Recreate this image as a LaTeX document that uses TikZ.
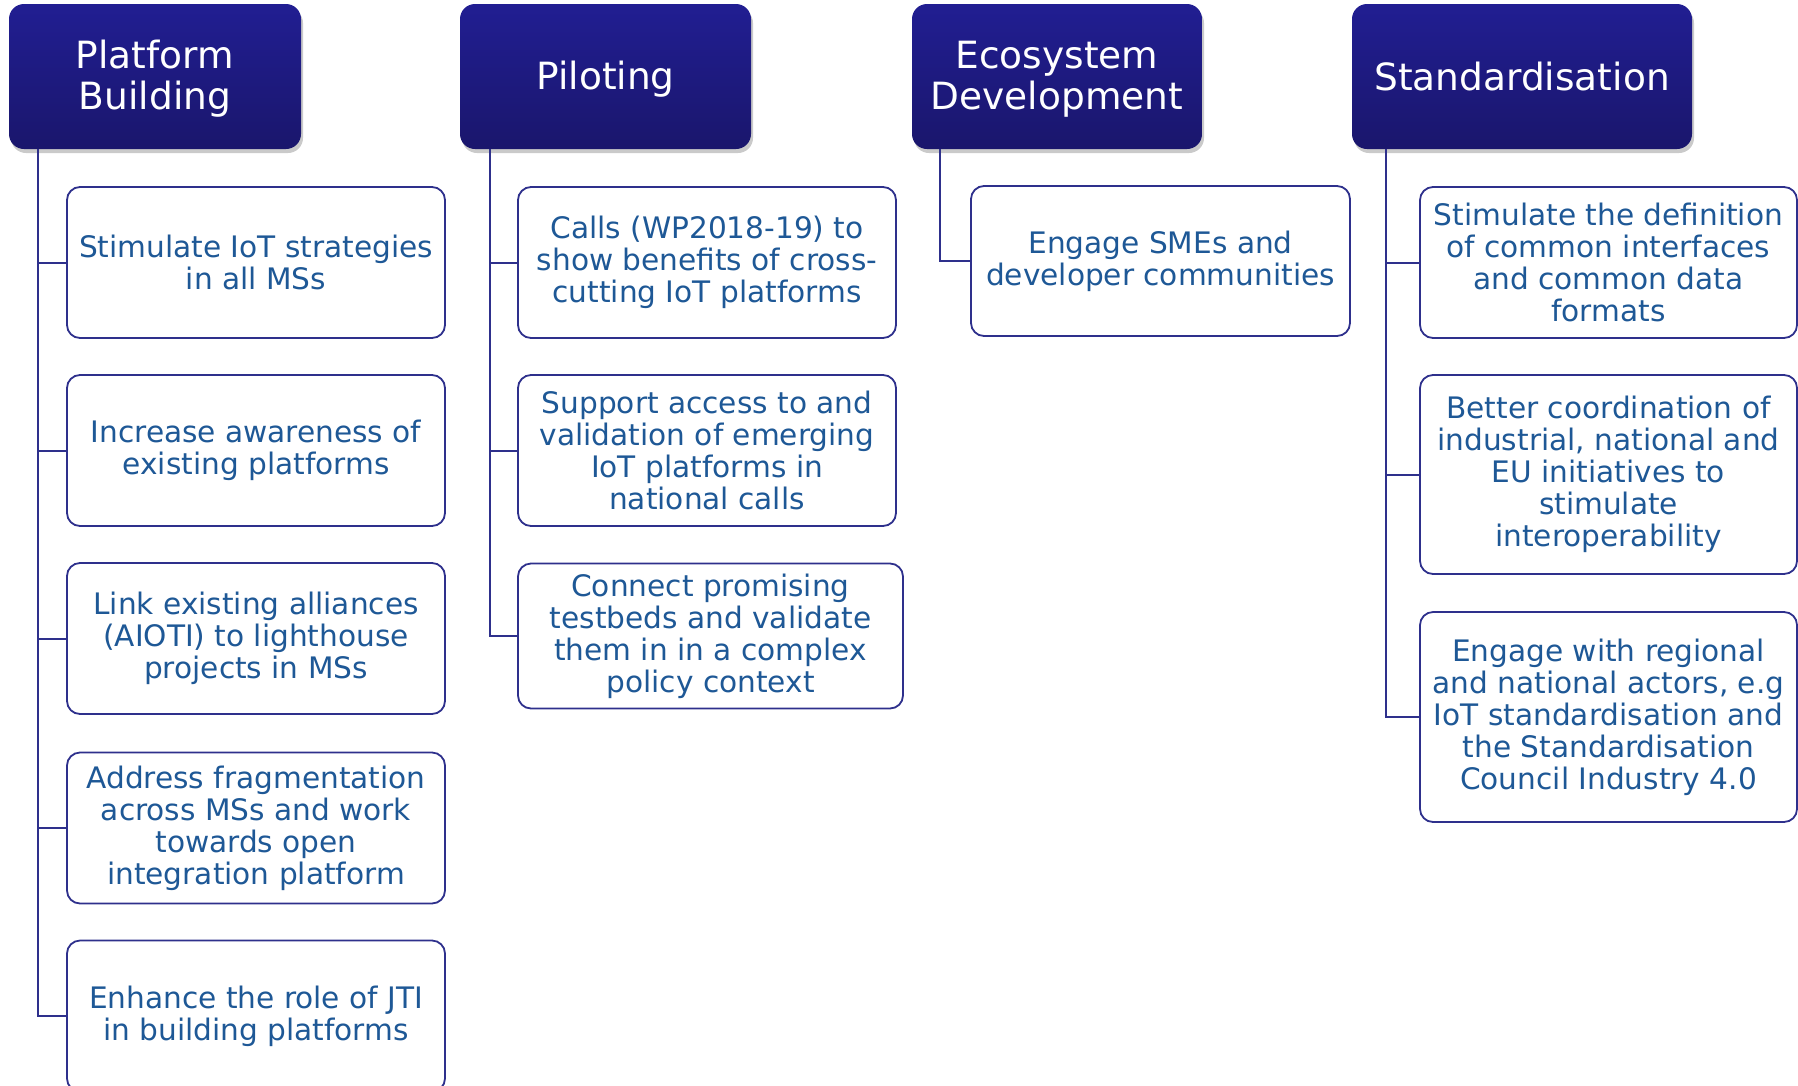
\documentclass[tikz,border=0pt]{standalone}
\usepackage{fontspec}
\setmainfont{DejaVu Sans}
\usetikzlibrary{shadows}
\definecolor{navytop}{RGB}{33,30,146}
\definecolor{navybot}{RGB}{26,22,108}
\definecolor{edgeblue}{RGB}{46,48,140}
\definecolor{txtblue}{RGB}{30,88,150}
\tikzset{
  x=1pt, y=-1pt,
  head/.style={rounded corners=15pt, top color=navytop, bottom color=navybot,
    draw=none, text=white, align=center, inner sep=0pt,
    font=\fontsize{37.5}{41}\selectfont,
    drop shadow={shadow xshift=2pt, shadow yshift=-4pt, opacity=0.35, fill=black!60}},
  item/.style={rounded corners=13pt, draw=edgeblue, line width=1.8pt, fill=white,
    text=txtblue, align=center, inner sep=0pt,
    font=\fontsize{29.6}{32}\selectfont},
  conn/.style={draw=edgeblue, line width=2pt},
}
\begin{document}
\begin{tikzpicture}
\useasboundingbox (0,0) rectangle (1798,1085);

% headers
\node[head, minimum width=292pt, minimum height=145pt] (h1) at (155,76.5) {\rule{0pt}{33pt}Platform\\Building};
\node[head, minimum width=291pt, minimum height=145pt] (h2) at (605.5,76.5) {\rule{0pt}{33pt}Piloting};
\node[head, minimum width=290pt, minimum height=145pt] (h3) at (1057,76.5) {\rule{0pt}{33pt}Ecosystem\\Development};
\node[head, minimum width=340pt, minimum height=145pt] (h4) at (1522,76.5) {Standardisation};

% column 1
\node[item, minimum width=378pt, minimum height=151pt] (a1) at (256,262.5) {Stimulate IoT strategies\\in all MSs};
\node[item, minimum width=378pt, minimum height=151pt] (a2) at (256,450.5) {Increase awareness of\\existing platforms};
\node[item, minimum width=378pt, minimum height=151pt] (a3) at (256,638.5) {Link existing alliances\\(AIOTI) to lighthouse\\projects in MSs};
\node[item, minimum width=378pt, minimum height=151pt] (a4) at (256,828) {Address fragmentation\\across MSs and work\\towards open\\integration platform};
\node[item, minimum width=378pt, minimum height=151pt] (a5) at (256,1016) {Enhance the role of JTI\\in building platforms};

% column 2
\node[item, minimum width=378pt, minimum height=151pt] (b1) at (707,262.5) {Calls (WP2018-19) to\\show benefits of cross-\\cutting IoT platforms};
\node[item, minimum width=378pt, minimum height=151pt] (b2) at (707,450.5) {Support access to and\\validation of emerging\\IoT platforms in\\national calls};
\node[item, minimum width=385pt, minimum height=145pt] (b3) at (710.5,636) {Connect promising\\testbeds and validate\\them in in a complex\\policy context};

% column 3
\node[item, minimum width=379pt, minimum height=150pt] (c1) at (1160.5,261) {Engage SMEs and\\developer communities};

% column 4
\node[item, minimum width=377pt, minimum height=151pt] (d1) at (1608.5,262.5) {Stimulate the definition\\of common interfaces\\and common data\\formats};
\node[item, minimum width=377pt, minimum height=199pt] (d2) at (1608.5,474.5) {Better coordination of\\industrial, national and\\EU initiatives to\\stimulate\\interoperability};
\node[item, minimum width=377pt, minimum height=210pt] (d3) at (1608.5,717) {Engage with regional\\and national actors, e.g\\IoT standardisation and\\the Standardisation\\Council Industry 4.0};

% connectors
\foreach \b in {a1,a2,a3,a4,a5}
  \draw[conn] ([xshift=29.5pt]h1.south west) |- (\b.west);
\foreach \b in {b1,b2,b3}
  \draw[conn] ([xshift=30pt]h2.south west) |- (\b.west);
\draw[conn] ([xshift=28pt]h3.south west) |- (c1.west);
\foreach \b in {d1,d2,d3}
  \draw[conn] ([xshift=34pt]h4.south west) |- (\b.west);
\end{tikzpicture}
\end{document}
